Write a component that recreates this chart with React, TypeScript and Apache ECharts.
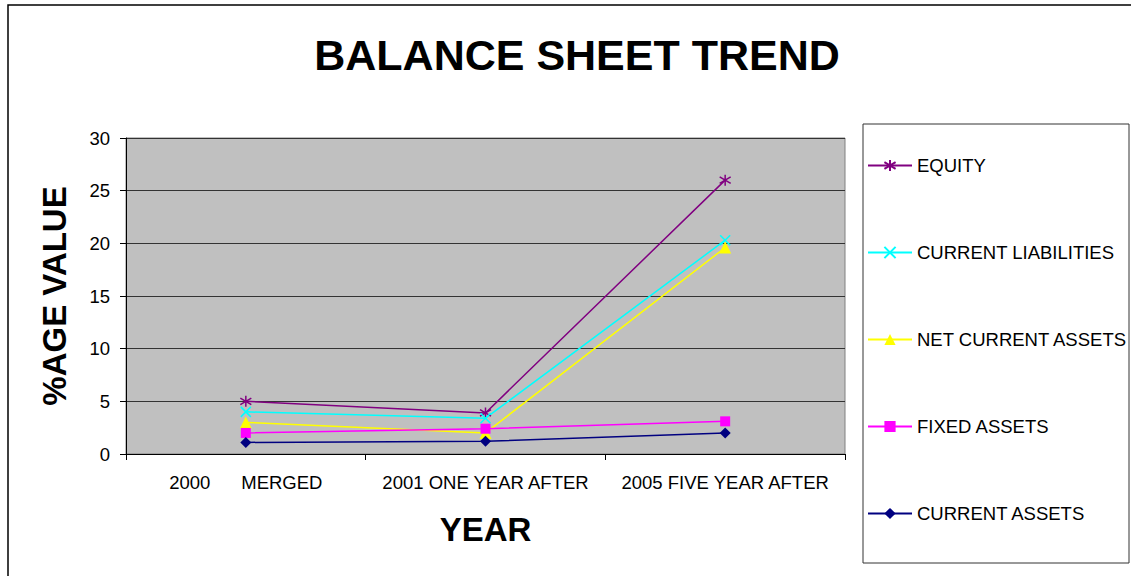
import React, { useEffect, useRef } from "react";
import * as echarts from "echarts";

const categories = ["2000\u00a0\u00a0\u00a0\u00a0\u00a0\u00a0MERGED", "2001 ONE YEAR AFTER", "2005 FIVE YEAR AFTER"];
const equity = [5, 3.9, 26];
const currentLiabilities = [4, 3.4, 20.3];
const netCurrentAssets = [3, 2, 19.6];
const fixedAssets = [2, 2.4, 3.1];
const currentAssets = [1.1, 1.2, 2];
const yTicks = { min: 0, max: 30, interval: 5 };

const FONT = "'Liberation Sans', Arial, sans-serif";

export default function App() {
  const ref = useRef<HTMLDivElement>(null);
  useEffect(() => {
    if (!ref.current) return;
    const chart = echarts.init(ref.current, null, { renderer: "svg" });
    const mk = (name: string, data: number[], color: string, symbol: string, size: number, stroke = false) => ({
      name,
      type: "line",
      data,
      symbol,
      symbolSize: size,
      lineStyle: { color, width: 1.5 },
      itemStyle: stroke ? { color, borderColor: color, borderWidth: 1.5 } : { color },
      emphasis: { disabled: true },
    });
    chart.setOption({
      animation: false,
      textStyle: { fontFamily: FONT },
      grid: {
        left: 126, top: 138, width: 719, height: 316,
        show: true, backgroundColor: "#C0C0C0", borderColor: "#808080", borderWidth: 1,
      },
      legend: {
        orient: "vertical",
        left: 862, top: 151,
        itemWidth: 44, itemHeight: 14, itemGap: 68,
        textStyle: { fontSize: 18.5, color: "#000", fontFamily: FONT },
        data: ["EQUITY", "CURRENT LIABILITIES", "NET CURRENT ASSETS", "FIXED ASSETS", "CURRENT ASSETS"],
      },
      xAxis: {
        type: "category",
        data: categories,
        boundaryGap: true,
        name: "YEAR",
        nameLocation: "middle",
        nameGap: 59,
        nameTextStyle: { fontSize: 33, fontWeight: "bold", color: "#000", fontFamily: FONT },
        axisLine: { lineStyle: { color: "#000" } },
        axisTick: { show: true, length: 6, lineStyle: { color: "#000" } },
        axisLabel: { interval: 0, hideOverlap: false, fontSize: 18.5, color: "#000", margin: 19, fontFamily: FONT },
      },
      yAxis: {
        type: "value",
        min: yTicks.min, max: yTicks.max, interval: yTicks.interval,
        name: "%AGE VALUE",
        nameLocation: "middle",
        nameRotate: 90,
        nameGap: 55,
        nameTextStyle: { fontSize: 33, fontWeight: "bold", color: "#000", fontFamily: FONT },
        axisLine: { show: true, lineStyle: { color: "#000" } },
        axisTick: { show: true, length: 6, lineStyle: { color: "#000" } },
        axisLabel: { fontSize: 18.5, color: "#000", margin: 16, fontFamily: FONT },
        splitLine: { show: true, lineStyle: { color: "#333", width: 1 } },
      },
      graphic: [
        { type: "rect", shape: { x: 8, y: 5, width: 1140, height: 600 }, style: { fill: "none", stroke: "#000", lineWidth: 1.5 }, silent: true },
        { type: "rect", shape: { x: 863, y: 124, width: 266, height: 439 }, style: { fill: "none", stroke: "#333", lineWidth: 1 }, silent: true },
        { type: "text", x: 577, y: 55, style: { text: "BALANCE SHEET TREND", font: `bold 43px ${FONT}`, fill: "#000", textAlign: "center", textVerticalAlign: "middle" } },
      ],
      series: [
        mk("EQUITY", equity, "#800080", "path://M0,-5L0,5M-4.5,-3L4.5,3M-4.5,3L4.5,-3", 11, true),
        mk("CURRENT LIABILITIES", currentLiabilities, "#00FFFF", "path://M-5,-5L5,5M-5,5L5,-5", 10, true),
        mk("NET CURRENT ASSETS", netCurrentAssets, "#FFFF00", "triangle", 12),
        mk("FIXED ASSETS", fixedAssets, "#FF00FF", "rect", 10),
        mk("CURRENT ASSETS", currentAssets, "#000080", "diamond", 11),
      ],
    });
    return () => chart.dispose();
  }, []);
  return <div ref={ref} style={{ position: "fixed", left: 0, top: 0, width: 1131, height: 576, background: "#fff" }} />;
}
